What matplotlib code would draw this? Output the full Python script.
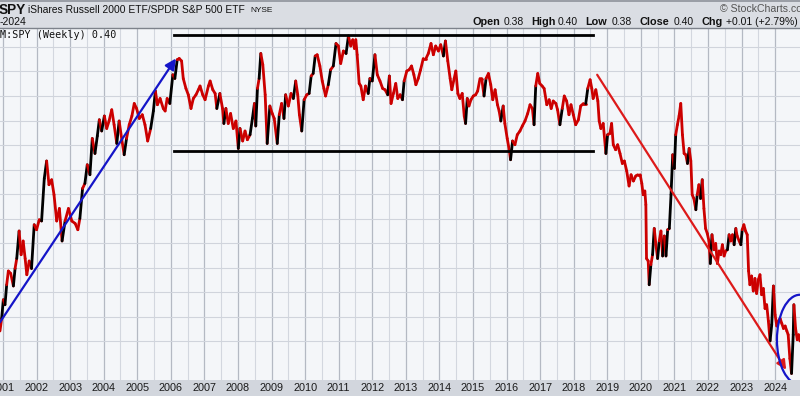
import numpy as np
import matplotlib
matplotlib.use('Agg')
import matplotlib.pyplot as plt
from matplotlib.collections import LineCollection
from matplotlib.patches import Ellipse, Rectangle

# IWM:SPY weekly ratio (decimal year, ratio)
dates = [
    2000.91, 2000.96, 2001.01, 2001.06, 2001.11, 2001.16, 2001.23, 2001.31, 2001.36, 2001.41,
    2001.48, 2001.54, 2001.60, 2001.66, 2001.71, 2001.78, 2001.85, 2001.93, 2002.00, 2002.08,
    2002.15, 2002.23, 2002.30, 2002.37, 2002.45, 2002.52, 2002.60, 2002.68, 2002.76, 2002.85,
    2002.95, 2003.05, 2003.15, 2003.23, 2003.29, 2003.37, 2003.44, 2003.51, 2003.59, 2003.66,
    2003.74, 2003.81, 2003.87, 2003.94, 2004.02, 2004.09, 2004.16, 2004.24, 2004.31, 2004.39,
    2004.46, 2004.54, 2004.61, 2004.68, 2004.76, 2004.84, 2004.91, 2004.98, 2005.06, 2005.15,
    2005.23, 2005.31, 2005.40, 2005.48, 2005.54, 2005.60, 2005.68, 2005.775, 2005.83, 2005.89,
    2005.97, 2006.06, 2006.12, 2006.19, 2006.25, 2006.32, 2006.37, 2006.45, 2006.52, 2006.60,
    2006.67, 2006.75, 2006.82, 2006.87, 2006.95, 2007.02, 2007.12, 2007.17, 2007.25, 2007.32,
    2007.37, 2007.46, 2007.54, 2007.58, 2007.64, 2007.71, 2007.78, 2007.86, 2007.94, 2008.01,
    2008.06, 2008.14, 2008.21, 2008.28, 2008.36, 2008.43, 2008.49, 2008.53, 2008.58, 2008.63,
    2008.68, 2008.74, 2008.81, 2008.87, 2008.95, 2009.02, 2009.08, 2009.17, 2009.23, 2009.30,
    2009.37, 2009.42, 2009.50, 2009.58, 2009.65, 2009.72, 2009.78, 2009.83, 2009.90, 2009.97,
    2010.05, 2010.12, 2010.18, 2010.24, 2010.30, 2010.36, 2010.44, 2010.51, 2010.56, 2010.61,
    2010.69, 2010.76, 2010.84, 2010.92, 2010.99, 2011.06, 2011.14, 2011.22, 2011.29, 2011.36,
    2011.42, 2011.47, 2011.51, 2011.55, 2011.61, 2011.66, 2011.73, 2011.80, 2011.88, 2011.93,
    2012.00, 2012.08, 2012.15, 2012.23, 2012.31, 2012.38, 2012.46, 2012.51, 2012.56, 2012.63,
    2012.70, 2012.76, 2012.83, 2012.90, 2012.95, 2013.03, 2013.10, 2013.17, 2013.24, 2013.30,
    2013.37, 2013.44, 2013.52, 2013.60, 2013.67, 2013.75, 2013.82, 2013.89, 2013.97, 2014.04,
    2014.12, 2014.18, 2014.25, 2014.32, 2014.37, 2014.44, 2014.49, 2014.55, 2014.61, 2014.68,
    2014.74, 2014.78, 2014.83, 2014.88, 2014.94, 2015.01, 2015.08, 2015.14, 2015.21, 2015.26,
    2015.33, 2015.39, 2015.46, 2015.53, 2015.59, 2015.66, 2015.73, 2015.78, 2015.83, 2015.90,
    2015.95, 2016.02, 2016.08, 2016.12, 2016.18, 2016.25, 2016.32, 2016.40, 2016.47, 2016.55,
    2016.63, 2016.70, 2016.77, 2016.82, 2016.87, 2016.93, 2016.99, 2017.06, 2017.12, 2017.20,
    2017.27, 2017.33, 2017.39, 2017.47, 2017.52, 2017.59, 2017.66, 2017.72, 2017.79, 2017.86,
    2017.92, 2017.99, 2018.06, 2018.14, 2018.21, 2018.29, 2018.36, 2018.42, 2018.49, 2018.54,
    2018.58, 2018.66, 2018.72, 2018.76, 2018.81, 2018.88, 2018.96, 2019.01, 2019.08, 2019.13,
    2019.18, 2019.25, 2019.31, 2019.38, 2019.45, 2019.51, 2019.58, 2019.65, 2019.71, 2019.78,
    2019.85, 2019.91, 2019.98, 2020.03, 2020.07, 2020.12, 2020.15, 2020.17, 2020.22, 2020.25,
    2020.30, 2020.35, 2020.40, 2020.45, 2020.50, 2020.55, 2020.60, 2020.65, 2020.70, 2020.75,
    2020.80, 2020.85, 2020.90, 2020.95, 2021.00, 2021.04, 2021.09, 2021.14, 2021.19, 2021.24,
    2021.29, 2021.34, 2021.39, 2021.44, 2021.49, 2021.53, 2021.58, 2021.64, 2021.68, 2021.73,
    2021.78, 2021.83, 2021.88, 2021.93, 2021.98, 2022.03, 2022.07, 2022.12, 2022.18, 2022.23,
    2022.28, 2022.33, 2022.38, 2022.43, 2022.48, 2022.53, 2022.58, 2022.63, 2022.68, 2022.73,
    2022.78, 2022.83, 2022.87, 2022.93, 2022.98, 2023.02, 2023.07, 2023.12, 2023.17, 2023.21,
    2023.25, 2023.30, 2023.35, 2023.40, 2023.45, 2023.50, 2023.55, 2023.60, 2023.65, 2023.70,
    2023.75, 2023.80, 2023.85, 2023.90, 2023.95, 2024.00, 2024.05, 2024.10, 2024.15, 2024.20,
    2024.25, 2024.30, 2024.35, 2024.39, 2024.44, 2024.49, 2024.54, 2024.56, 2024.61, 2024.66,
    2024.70, 2024.74,
]
ratio = [
    0.408, 0.418, 0.433, 0.429, 0.445, 0.456, 0.454, 0.444, 0.458, 0.466,
    0.488, 0.469, 0.480, 0.466, 0.453, 0.464, 0.458, 0.493, 0.489, 0.497,
    0.496, 0.530, 0.544, 0.525, 0.529, 0.517, 0.496, 0.506, 0.480, 0.496,
    0.506, 0.496, 0.494, 0.489, 0.498, 0.522, 0.526, 0.541, 0.533, 0.562,
    0.550, 0.564, 0.577, 0.568, 0.580, 0.570, 0.576, 0.585, 0.573, 0.558,
    0.576, 0.561, 0.549, 0.562, 0.573, 0.580, 0.590, 0.586, 0.578, 0.581,
    0.573, 0.560, 0.570, 0.584, 0.600, 0.589, 0.594, 0.586, 0.584, 0.594,
    0.590, 0.613, 0.610, 0.625, 0.626, 0.624, 0.610, 0.602, 0.597, 0.586,
    0.594, 0.597, 0.601, 0.604, 0.597, 0.593, 0.604, 0.608, 0.601, 0.598,
    0.586, 0.598, 0.586, 0.574, 0.586, 0.574, 0.582, 0.570, 0.576, 0.554,
    0.570, 0.560, 0.568, 0.561, 0.565, 0.578, 0.590, 0.572, 0.602, 0.610,
    0.630, 0.621, 0.597, 0.558, 0.588, 0.582, 0.578, 0.558, 0.581, 0.590,
    0.578, 0.597, 0.588, 0.598, 0.594, 0.608, 0.597, 0.581, 0.568, 0.593,
    0.597, 0.598, 0.612, 0.614, 0.628, 0.629, 0.620, 0.608, 0.602, 0.596,
    0.605, 0.617, 0.620, 0.638, 0.636, 0.622, 0.632, 0.630, 0.644, 0.636,
    0.641, 0.634, 0.641, 0.629, 0.606, 0.604, 0.593, 0.604, 0.598, 0.610,
    0.608, 0.629, 0.613, 0.608, 0.602, 0.601, 0.597, 0.612, 0.590, 0.598,
    0.606, 0.594, 0.597, 0.593, 0.608, 0.616, 0.617, 0.620, 0.613, 0.605,
    0.610, 0.617, 0.626, 0.626, 0.630, 0.638, 0.629, 0.636, 0.632, 0.637,
    0.628, 0.640, 0.624, 0.610, 0.601, 0.610, 0.616, 0.598, 0.594, 0.598,
    0.580, 0.574, 0.594, 0.588, 0.593, 0.596, 0.597, 0.600, 0.610, 0.610,
    0.596, 0.610, 0.614, 0.605, 0.593, 0.601, 0.589, 0.584, 0.576, 0.588,
    0.574, 0.562, 0.553, 0.545, 0.560, 0.557, 0.565, 0.568, 0.572, 0.576,
    0.582, 0.589, 0.586, 0.573, 0.604, 0.614, 0.606, 0.604, 0.602, 0.589,
    0.593, 0.586, 0.592, 0.590, 0.585, 0.573, 0.586, 0.596, 0.592, 0.581,
    0.589, 0.581, 0.573, 0.577, 0.588, 0.590, 0.590, 0.602, 0.609, 0.602,
    0.594, 0.601, 0.592, 0.576, 0.570, 0.574, 0.550, 0.565, 0.566, 0.574,
    0.557, 0.553, 0.557, 0.550, 0.542, 0.544, 0.536, 0.524, 0.533, 0.528,
    0.532, 0.533, 0.533, 0.526, 0.517, 0.520, 0.509, 0.466, 0.464, 0.445,
    0.461, 0.469, 0.490, 0.477, 0.466, 0.480, 0.488, 0.468, 0.484, 0.468,
    0.489, 0.490, 0.517, 0.549, 0.538, 0.565, 0.573, 0.580, 0.590, 0.565,
    0.550, 0.549, 0.542, 0.554, 0.544, 0.517, 0.514, 0.505, 0.517, 0.525,
    0.514, 0.529, 0.506, 0.490, 0.486, 0.480, 0.462, 0.485, 0.473, 0.478,
    0.462, 0.472, 0.469, 0.477, 0.468, 0.472, 0.473, 0.485, 0.480, 0.485,
    0.477, 0.490, 0.484, 0.480, 0.477, 0.489, 0.493, 0.488, 0.485, 0.456,
    0.445, 0.452, 0.440, 0.450, 0.438, 0.449, 0.453, 0.437, 0.442, 0.426,
    0.429, 0.416, 0.400, 0.413, 0.444, 0.421, 0.412, 0.416, 0.418, 0.414,
    0.410, 0.412, 0.408, 0.405, 0.386, 0.374, 0.405, 0.429, 0.410, 0.401,
    0.405, 0.400,
]

years = list(range(2001, 2025))

# lines drawn by hand on the original chart
blue_trend = [(2000.91, 0.415), (2006.15, 0.626)]
range_top = 0.645
range_bottom = 0.552
range_start, range_end = 2006.09, 2018.57
red_trend = [(2018.70, 0.613), (2024.33, 0.377)]
circle_center = (2024.74, 0.401)

title_symbol = 'SPY'
title_name = 'iShares Russell 2000 ETF/SPDR S&P 500 ETF'
exchange = 'NYSE'
date_range = '-2024'
legend_text = 'M:SPY (Weekly) 0.40'
quote = [('Open', True), ('0.38', False), ('High', True), ('0.40', False),
         ('Low', True), ('0.38', False), ('Close', True), ('0.40', False),
         ('Chg', True), ('+0.01 (+2.79%)', False)]

W, H = 800, 396
XLIM = (2000.911, 2024.742)
YLIM = (0.3688, 0.6504)
plt.rcParams['font.family'] = ['Liberation Sans', 'DejaVu Sans']


def fx(x):
    return x / W


def fy(y):
    return 1 - y / H


def draw_header(fig):
    fig.add_artist(Rectangle((0, fy(28)), 1, 28 / H, transform=fig.transFigure,
                             facecolor='#dadde3', edgecolor='none', zorder=0))
    fig.add_artist(Rectangle((0, fy(1.5)), 1, 1.5 / H, transform=fig.transFigure,
                             facecolor='#9a9ea6', edgecolor='none', zorder=1))
    fig.text(fx(-1), fy(10), title_symbol, weight='bold', size=9.8, va='center', color='#111111')
    fig.text(fx(28), fy(10), title_name, size=7.4, va='center', color='#111111')
    fig.text(fx(250), fy(10.5), exchange, size=6.0, va='center', color='#111111')
    fig.text(fx(0), fy(22), date_range, size=7.6, va='center', color='#111111')
    fig.text(fx(720), fy(8.5), '\u00a9 StockCharts.com', size=7.6, va='center', color='#555555')

    xs = [472.7, 504, 531.7, 558, 585.7, 612, 640, 674, 701.7, 726]
    for (txt, bold), x in zip(quote, xs):
        fig.text(fx(x), fy(22), txt, size=7.8 if bold else 7.5, va='center',
                 weight='bold' if bold else 'normal', color='#111111')


def draw_price(ax):
    pts = np.column_stack([dates, ratio])
    segs = np.stack([pts[:-1], pts[1:]], axis=1)
    rise = np.diff(ratio)
    # strong up moves drawn black, the rest red
    colors = ['#000000' if r > 0.012 else '#cc0000' for r in rise]
    lc = LineCollection(segs, colors=colors, linewidths=2.0, capstyle='round',
                        joinstyle='round', zorder=3)
    ax.add_collection(lc, autolim=False)


if __name__ == '__main__':
    fig = plt.figure(figsize=(W / 100, H / 100), dpi=100)
    fig.patch.set_facecolor('#d2d6dd')
    draw_header(fig)

    ax = fig.add_axes([0, 16 / H, 1, 352 / H])
    ax.set_facecolor('#f4f6f9')

    # grid: year lines darker, half-year and price lines lighter
    ax.set_xticks(years)
    ax.set_xticklabels([str(y) for y in years])
    ax.set_xticks([y + 0.5 for y in range(2001, 2024)], minor=True)
    ax.set_yticks(0.40 + 0.0196 * np.arange(0, 13))
    ax.set_xlim(*XLIM)
    ax.set_ylim(*YLIM)
    ax.grid(True, which='major', axis='x', color='#b4b9c3', lw=0.9)
    ax.grid(True, which='minor', axis='x', color='#d3d7df', lw=0.8)
    ax.grid(True, which='major', axis='y', color='#d0d4dc', lw=0.8)
    ax.set_axisbelow(True)
    ax.tick_params(axis='x', which='both', length=0, pad=2, labelsize=7.8, labelcolor='#1a1a1a')
    ax.tick_params(axis='y', length=0, labelleft=False)
    for side in ['left', 'right', 'bottom']:
        ax.spines[side].set_visible(False)
    ax.spines['top'].set_color('#7d828b')
    ax.spines['top'].set_linewidth(1.0)

    draw_price(ax)

    # annotations
    ax.annotate('', xy=blue_trend[1], xytext=blue_trend[0],
                arrowprops=dict(arrowstyle='-|>', color='#1515c8', lw=1.6,
                                mutation_scale=16, shrinkA=0, shrinkB=0), zorder=4)
    ax.plot([range_start, range_end], [range_top, range_top], color='black', lw=2.0, zorder=4)
    ax.plot([range_start, range_end], [range_bottom, range_bottom], color='black', lw=2.0, zorder=4)
    ax.annotate('', xy=red_trend[1], xytext=red_trend[0],
                arrowprops=dict(arrowstyle='-|>', color='#dd1a1a', lw=1.6,
                                mutation_scale=14, shrinkA=0, shrinkB=0), zorder=4)
    ax.add_patch(Ellipse(circle_center, width=1.37, height=0.072, fill=False,
                         edgecolor='#1515c8', lw=1.6, zorder=5))
    ax.set_xlim(*XLIM)
    ax.set_ylim(*YLIM)

    fig.text(fx(0), fy(35.5), legend_text, family='DejaVu Sans Mono', size=7.3,
             va='center', color='#111111')

    plt.savefig('out.png', dpi=100, facecolor=fig.get_facecolor())
    plt.close()
